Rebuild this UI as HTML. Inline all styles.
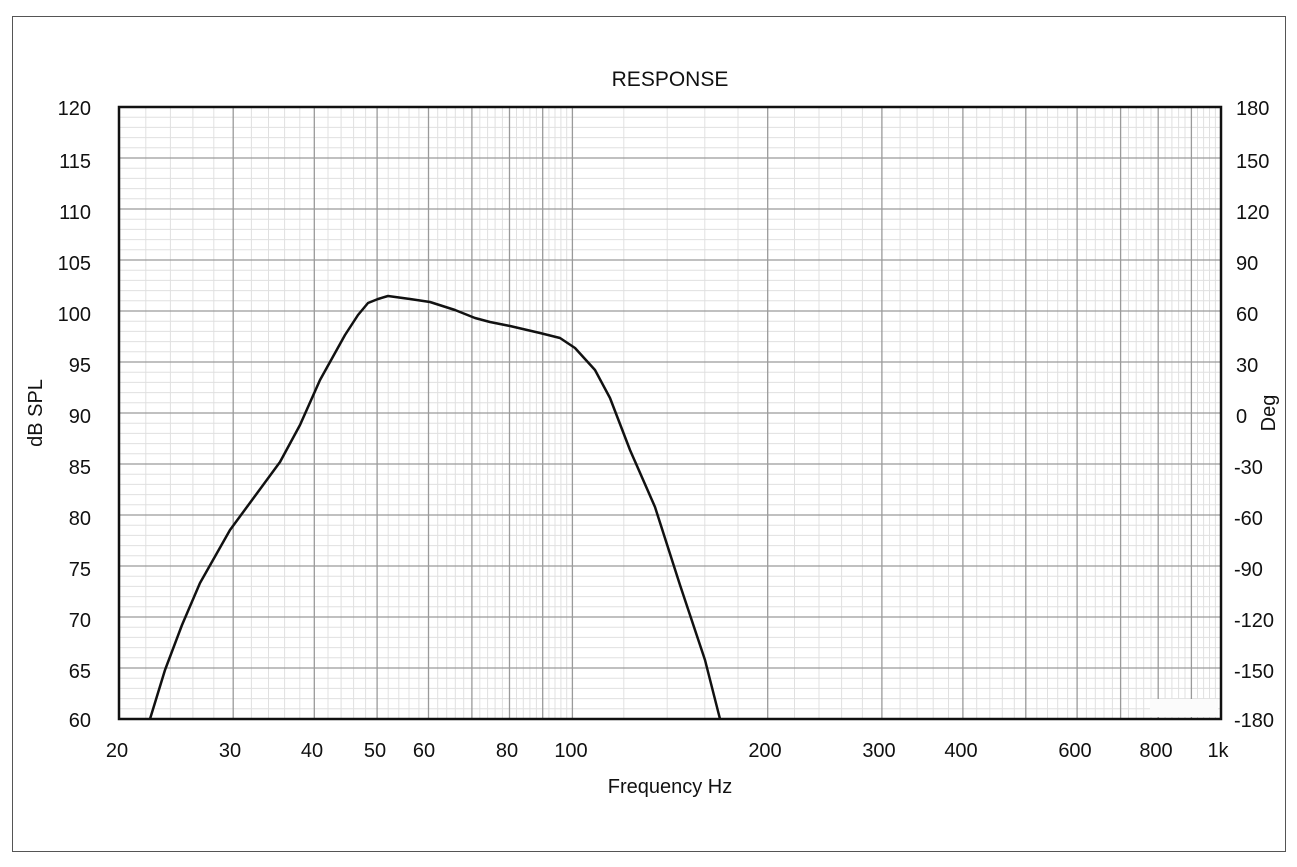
<!DOCTYPE html><html><head><style>body{margin:0;background:#fff}svg text{font-family:"Liberation Sans",sans-serif;fill:#111}</style></head><body>
<svg width="1297" height="862" xmlns="http://www.w3.org/2000/svg">
<rect x="12.5" y="16.5" width="1273" height="835" fill="none" stroke="#555" stroke-width="1"/>
<path stroke="#e0e0e0" stroke-width="1" fill="none" d="M119 708.8H1221M119 698.6H1221M119 688.4H1221M119 678.2H1221M119 657.8H1221M119 647.6H1221M119 637.4H1221M119 627.2H1221M119 606.8H1221M119 596.6H1221M119 586.4H1221M119 576.2H1221M119 555.8H1221M119 545.6H1221M119 535.4H1221M119 525.2H1221M119 504.8H1221M119 494.6H1221M119 484.4H1221M119 474.2H1221M119 453.8H1221M119 443.6H1221M119 433.4H1221M119 423.2H1221M119 402.8H1221M119 392.6H1221M119 382.4H1221M119 372.2H1221M119 351.8H1221M119 341.6H1221M119 331.4H1221M119 321.2H1221M119 300.8H1221M119 290.6H1221M119 280.4H1221M119 270.2H1221M119 249.8H1221M119 239.6H1221M119 229.4H1221M119 219.2H1221M119 198.8H1221M119 188.6H1221M119 178.4H1221M119 168.2H1221M119 147.8H1221M119 137.6H1221M119 127.4H1221M119 117.2H1221
M145.8 107V719M170.4 107V719M192.9 107V719M213.8 107V719M251.4 107V719M268.5 107V719M284.6 107V719M299.8 107V719M328 107V719M341.1 107V719M353.6 107V719M365.6 107V719M388.2 107V719M398.8 107V719M409 107V719M418.9 107V719M437.7 107V719M446.7 107V719M455.3 107V719M463.7 107V719M479.8 107V719M487.6 107V719M495.1 107V719M502.4 107V719M516.5 107V719M523.3 107V719M529.9 107V719M536.4 107V719M548.9 107V719M555 107V719M560.9 107V719M566.7 107V719
M623.8 107V719M667.2 107V719M704.8 107V719M738 107V719M794.5 107V719M819 107V719M841.6 107V719M862.4 107V719M900.1 107V719M917.1 107V719M933.2 107V719M948.5 107V719M976.7 107V719M989.8 107V719M1002.3 107V719M1014.3 107V719M1036.8 107V719M1047.5 107V719M1057.7 107V719M1067.6 107V719M1086.4 107V719M1095.3 107V719M1104 107V719M1112.4 107V719M1128.5 107V719M1136.2 107V719M1143.7 107V719M1151 107V719M1165.1 107V719M1171.9 107V719M1178.6 107V719M1185 107V719M1197.5 107V719M1203.6 107V719M1209.5 107V719M1215.4 107V719"/>
<path stroke="#9a9a9a" stroke-width="1.3" fill="none" d="M119 668H1221M119 617H1221M119 566H1221M119 515H1221M119 464H1221M119 413H1221M119 362H1221M119 311H1221M119 260H1221M119 209H1221M119 158H1221
M233.2 107V719M314.3 107V719M377.1 107V719M428.5 107V719M471.9 107V719M509.5 107V719M542.7 107V719M572.4 107V719M767.7 107V719M881.9 107V719M962.9 107V719M1025.8 107V719M1077.1 107V719M1120.6 107V719M1158.2 107V719M1191.4 107V719"/>
<rect x="1150" y="699" width="68" height="18" fill="#fbfbfb"/>
<rect x="119" y="107" width="1102" height="612" fill="none" stroke="#111" stroke-width="2.5"/>
<path d="M150,719 L165,670 L182,625 L200,583 L230,530 L255,496 L280,462 L300,425 L320,380 L345,335 L358,315 L368,303 L378,299 L388,296 L410,299 L430,302 L455,310 L475,318 L490,322 L510,326 L540,333 L560,338 L575,348 L595,370 L610,398 L630,450 L655,507 L680,585 L705,660 L720,719" fill="none" stroke="#111" stroke-width="2.5" stroke-linejoin="round"/>
<text x="670" y="86" font-size="21" text-anchor="middle">RESPONSE</text>
<g font-size="20" text-anchor="end">
<text x="91" y="115">120</text><text x="91" y="168">115</text><text x="91" y="219">110</text><text x="91" y="270">105</text><text x="91" y="321">100</text><text x="91" y="372">95</text><text x="91" y="423">90</text><text x="91" y="474">85</text><text x="91" y="525">80</text><text x="91" y="576">75</text><text x="91" y="627">70</text><text x="91" y="678">65</text><text x="91" y="727">60</text></g>
<g font-size="20">
<text x="1236" y="115">180</text><text x="1236" y="168">150</text><text x="1236" y="219">120</text><text x="1236" y="270">90</text><text x="1236" y="321">60</text><text x="1236" y="372">30</text><text x="1236" y="423">0</text><text x="1234" y="474">-30</text><text x="1234" y="525">-60</text><text x="1234" y="576">-90</text><text x="1234" y="627">-120</text><text x="1234" y="678">-150</text><text x="1234" y="727">-180</text></g>
<g font-size="20" text-anchor="middle">
<text x="117" y="757">20</text><text x="230" y="757">30</text><text x="312" y="757">40</text><text x="375" y="757">50</text><text x="424" y="757">60</text><text x="507" y="757">80</text><text x="571" y="757">100</text><text x="765" y="757">200</text><text x="879" y="757">300</text><text x="961" y="757">400</text><text x="1075" y="757">600</text><text x="1156" y="757">800</text><text x="1218" y="757">1k</text></g>
<text x="670" y="793" font-size="20" text-anchor="middle">Frequency Hz</text>
<text transform="translate(42,413) rotate(-90)" font-size="20" text-anchor="middle">dB SPL</text>
<text transform="translate(1275,413) rotate(-90)" font-size="20" text-anchor="middle">Deg</text>
</svg></body></html>
